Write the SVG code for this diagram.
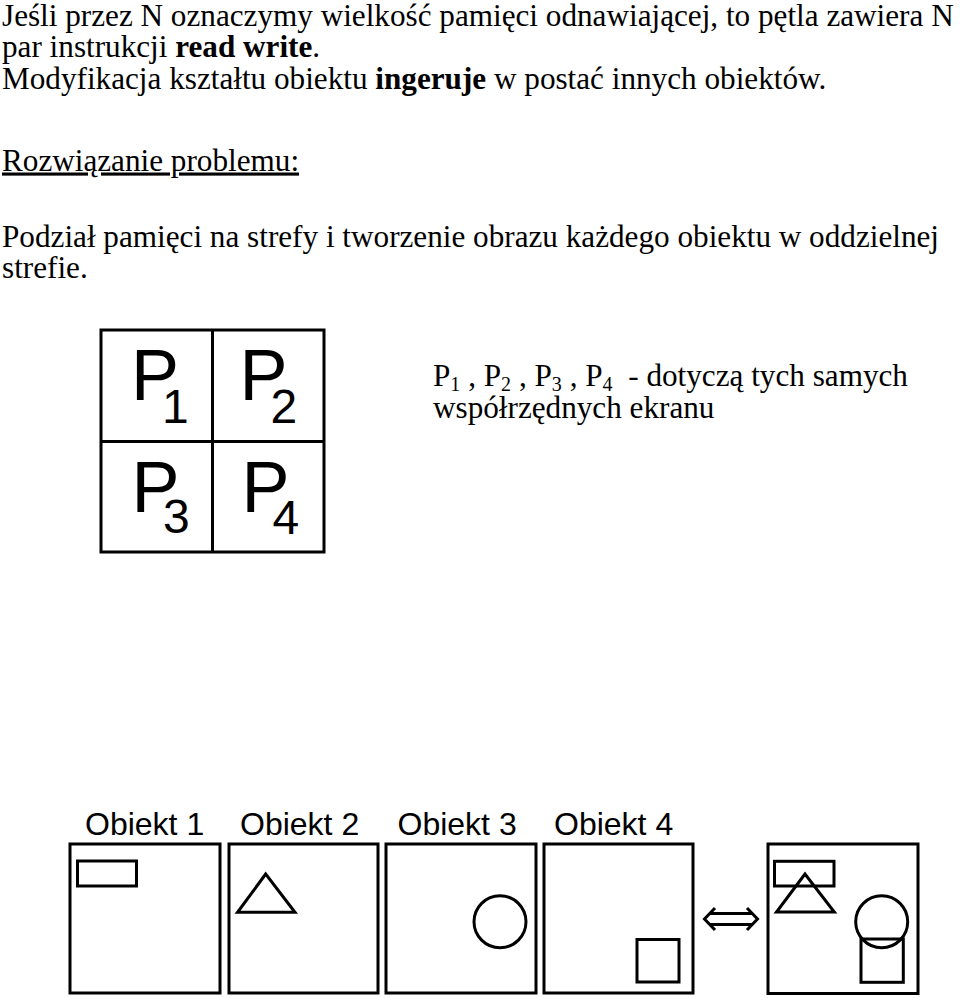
<svg xmlns="http://www.w3.org/2000/svg" width="960" height="998" viewBox="0 0 960 998">
<style>
.t{font-family:"Liberation Serif","Times New Roman",serif;font-size:31.2px;fill:#000}
.b{font-weight:bold}
.sb{font-size:20px}
.s{font-family:"Liberation Sans",Arial,sans-serif;fill:#000}
.big{font-size:72px}
.sub{font-size:48px}
.lbl{font-size:32px}
.ln{fill:none;stroke:#000;stroke-width:3}
</style>
<rect width="960" height="998" fill="#fff"/>
<g id="intro">
<text class="t" x="2" y="25.5">Jeśli przez N oznaczymy wielkość pamięci odnawiającej, to pętla zawiera N</text>
<text class="t" x="2" y="57">par instrukcji <tspan class="b">read write</tspan>.</text>
<text class="t" x="2" y="88.5">Modyfikacja kształtu obiektu <tspan class="b">ingeruje</tspan> w postać innych obiektów.</text>
<text class="t" x="2" y="170.5" text-decoration="underline">Rozwiązanie problemu:</text>
<text class="t" x="2" y="246.5">Podział pamięci na strefy i tworzenie obrazu każdego obiektu w oddzielnej</text>
<text class="t" x="2" y="278">strefie.</text>
</g>
<g id="grid">
<rect class="ln" x="101" y="330" width="223" height="222"/>
<line class="ln" x1="212.5" y1="330" x2="212.5" y2="552"/>
<line class="ln" x1="101" y1="441.5" x2="324" y2="441.5"/>
<text class="s big" x="131" y="400">P</text><text class="s sub" x="162" y="423">1</text>
<text class="s big" x="239.5" y="400">P</text><text class="s sub" x="270.5" y="423">2</text>
<text class="s big" x="131.5" y="512">P</text><text class="s sub" x="163" y="533">3</text>
<text class="s big" x="241.5" y="512">P</text><text class="s sub" x="272.5" y="534">4</text>
</g>
<g id="note">
<text class="t" x="433" y="386" xml:space="preserve">P<tspan class="sb" dy="5">1</tspan><tspan dy="-5"> , P</tspan><tspan class="sb" dy="5">2</tspan><tspan dy="-5"> , P</tspan><tspan class="sb" dy="5">3</tspan><tspan dy="-5"> , P</tspan><tspan class="sb" dy="5">4</tspan><tspan dy="-5">  - dotyczą tych samych</tspan></text>
<text class="t" x="433" y="418">współrzędnych ekranu</text>
</g>
<g id="obiekt1">
<text class="s lbl" x="85" y="835">Obiekt 1</text>
<rect class="ln" x="70" y="844" width="150" height="149"/>
<rect class="ln" x="77.5" y="861" width="59" height="25"/>
</g>
<g id="obiekt2">
<text class="s lbl" x="240" y="835">Obiekt 2</text>
<rect class="ln" x="229" y="844" width="149" height="149"/>
<polygon class="ln" points="265.7,874 237.5,912.3 295,912.3"/>
</g>
<g id="obiekt3">
<text class="s lbl" x="397.5" y="835">Obiekt 3</text>
<rect class="ln" x="386" y="844" width="150" height="149"/>
<circle class="ln" cx="500" cy="921.7" r="26"/>
</g>
<g id="obiekt4">
<text class="s lbl" x="554" y="835">Obiekt 4</text>
<rect class="ln" x="544" y="844" width="149" height="149"/>
<rect class="ln" x="637" y="939.5" width="42" height="42.5"/>
</g>
<g id="ekran">
<rect class="ln" x="768" y="844" width="150" height="149.5"/>
<rect class="ln" x="774.5" y="861.3" width="59.5" height="24.7"/>
<polygon class="ln" points="805,874 776.5,912 834.3,912"/>
<circle class="ln" cx="881.7" cy="921.7" r="26"/>
<rect class="ln" x="861" y="939" width="42.3" height="43.3"/>
</g>
<g id="connectors">
<path class="ln" d="M715,908 L704.5,919 L715,930 M747,908 L757.5,919 L747,930 M709.5,913.5 H752.5 M709.5,924.5 H752.5"/>
</g>
</svg>
